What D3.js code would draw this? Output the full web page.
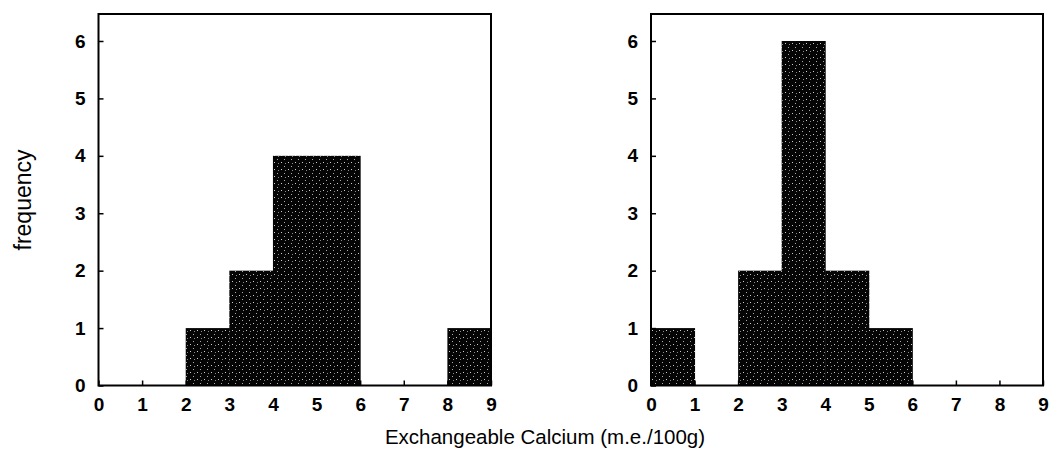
<!DOCTYPE html>
<html>
<head>
<meta charset="utf-8">
<script src="https://cdn.jsdelivr.net/npm/d3@7"></script>
<style>
  body { margin: 0; background: #fff; }
  #chart { width: 1051px; height: 454px; }
  .axisLabel { font-family: "Liberation Sans", Arial, sans-serif; fill: #000; }
</style>
</head>
<body>
<div id="chart"></div>
<script>
// data: histogram bins (m.e./100g) and counts for the two panels
const binStarts = [0, 1, 2, 3, 4, 5, 6, 7, 8];
const leftCounts = [0, 0, 1, 2, 4, 4, 0, 0, 1];
const rightCounts = [1, 0, 2, 6, 2, 1, 0, 0, 0];
const xTicks = [0, 1, 2, 3, 4, 5, 6, 7, 8, 9];
const yTicks = [0, 1, 2, 3, 4, 5, 6];

const width = 1051;
const height = 454;

const svg = d3.select("#chart")
    .append("svg")
    .attr("width", width)
    .attr("height", height);

// stippled dark fill
const defs = svg.append("defs");
const pat = defs.append("pattern")
    .attr("id", "stipple")
    .attr("patternUnits", "userSpaceOnUse")
    .attr("width", 7)
    .attr("height", 7);
pat.append("rect").attr("width", 7).attr("height", 7).attr("fill", "#050505");
pat.append("rect").attr("x", 1).attr("y", 1).attr("width", 1).attr("height", 1).attr("fill", "#ccc");
pat.append("rect").attr("x", 4).attr("y", 5).attr("width", 1).attr("height", 1).attr("fill", "#aaa");
pat.append("rect").attr("x", 5).attr("y", 2).attr("width", 1).attr("height", 1).attr("fill", "#888");

const panels = [
    { left: 98.5, right: 491, counts: leftCounts },
    { left: 651, right: 1043, counts: rightCounts }
];
const plotTop = 14, plotBottom = 385.5;

panels.forEach(function(p) {
    const xScale = d3.scaleLinear()
        .domain([0, 9])
        .range([p.left, p.right]);

    const yScale = d3.scaleLinear()
        .domain([0, 6.47])
        .range([plotBottom, plotTop]);

    const g = svg.append("g");

    // bars
    g.selectAll("rect.bar")
        .data(binStarts)
        .enter()
        .append("rect")
            .attr("class", "bar")
            .attr("x", function(d) { return xScale(d); })
            .attr("y", function(d, i) { return yScale(p.counts[i]); })
            .attr("width", function(d) { return xScale(d + 1) - xScale(d) + 0.5; })
            .attr("height", function(d, i) { return plotBottom - yScale(p.counts[i]); })
            .attr("fill", "url(#stipple)");

    // axes, ticks pointing inward
    const xAxis = g.append("g")
        .attr("transform", `translate(0,${plotBottom})`)
        .call(d3.axisBottom(xScale).tickValues(xTicks).tickFormat(d3.format("d"))
            .tickSizeInner(-5).tickSizeOuter(0).tickPadding(12));

    const yAxis = g.append("g")
        .attr("transform", `translate(${p.left},0)`)
        .call(d3.axisLeft(yScale).tickValues(yTicks).tickFormat(d3.format("d"))
            .tickSizeInner(-5).tickSizeOuter(0).tickPadding(13));

    g.selectAll(".domain").remove();
    g.selectAll(".tick line").attr("stroke", "#000").attr("stroke-width", 1.5);
    g.selectAll(".tick text")
        .attr("font-family", "'Liberation Sans', Arial, sans-serif")
        .attr("font-size", 19)
        .attr("font-weight", "bold")
        .attr("fill", "#000");

    // frame
    g.append("rect")
        .attr("x", p.left)
        .attr("y", plotTop)
        .attr("width", p.right - p.left)
        .attr("height", plotBottom - plotTop)
        .attr("fill", "none")
        .attr("stroke", "#000")
        .attr("stroke-width", 2);
});

// axis labels
svg.append("text")
    .attr("class", "axisLabel")
    .attr("text-anchor", "middle")
    .attr("font-size", 20.5)
    .attr("x", 545)
    .attr("y", 444)
    .text("Exchangeable Calcium (m.e./100g)");

svg.append("text")
    .attr("class", "axisLabel")
    .attr("text-anchor", "middle")
    .attr("font-size", 23)
    .attr("transform", "rotate(-90)")
    .attr("x", -200)
    .attr("y", 31)
    .text("frequency");
</script>
</body>
</html>
